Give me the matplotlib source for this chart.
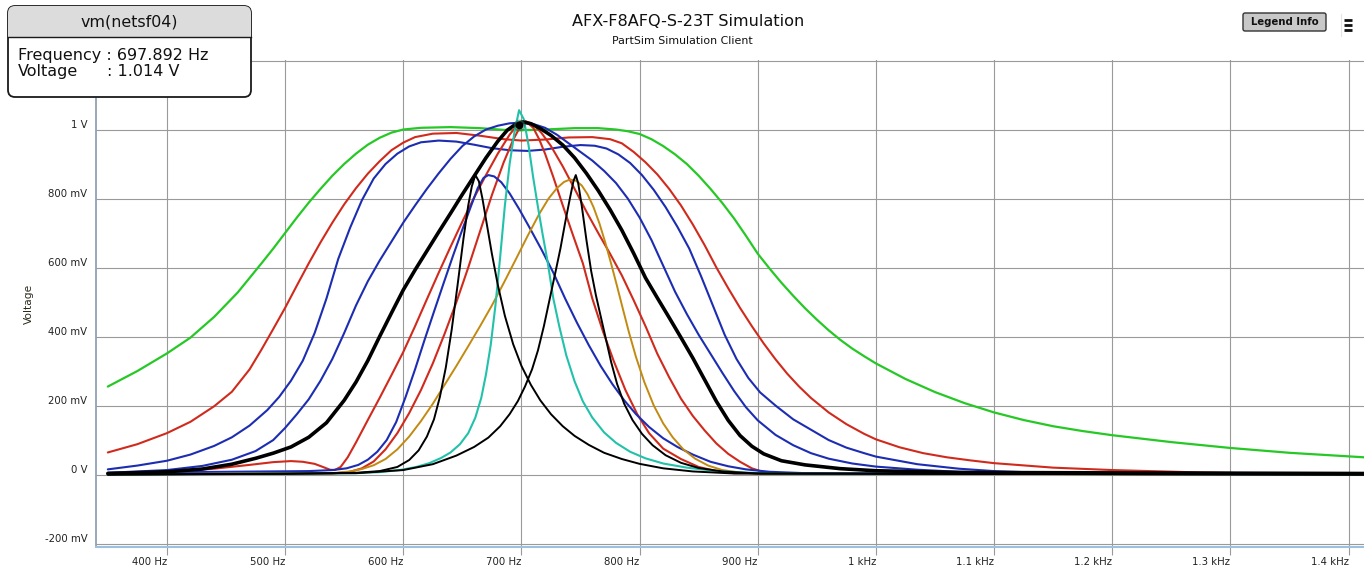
import matplotlib
matplotlib.use("Agg")
import matplotlib.pyplot as plt
from matplotlib.patches import FancyBboxPatch, Rectangle

# ---- data (frequency in Hz, voltage in V) ----
green_f = [350, 375, 400, 420, 440, 460, 480, 490, 500, 510, 520, 530, 540, 550, 560, 570, 580,
           590, 600, 615, 640, 665, 685, 700, 720, 745, 765, 780, 790, 800, 810, 820, 830, 840,
           850, 860, 870, 880, 890, 900, 910, 920, 930, 940, 950, 960, 970, 980, 990, 1000,
           1025, 1050, 1075, 1100, 1125, 1150, 1175, 1200, 1250, 1300, 1350, 1413]
green_v = [0.255, 0.30, 0.351, 0.397, 0.457, 0.528, 0.612, 0.655, 0.70, 0.745, 0.788, 0.828,
           0.866, 0.90, 0.93, 0.956, 0.976, 0.991, 1.0, 1.005, 1.007, 1.004, 0.999, 0.998, 1.0,
           1.004, 1.004, 1.0, 0.995, 0.987, 0.972, 0.952, 0.928, 0.90, 0.866, 0.828, 0.787,
           0.742, 0.692, 0.64, 0.597, 0.556, 0.518, 0.482, 0.449, 0.418, 0.39, 0.365, 0.343,
           0.322, 0.277, 0.239, 0.207, 0.18, 0.158, 0.14, 0.126, 0.114, 0.094, 0.077, 0.063,
           0.05]

red1_f = [350, 375, 400, 420, 440, 455, 470, 480, 490, 500, 510, 520, 530, 540, 550, 560, 570,
          580, 590, 600, 610, 625, 645, 665, 685, 700, 720, 740, 760, 775, 785, 795, 805, 815,
          825, 835, 845, 855, 865, 875, 885, 895, 905, 915, 925, 935, 945, 960, 975, 990, 1000,
          1020, 1040, 1060, 1080, 1100, 1150, 1200, 1275, 1330, 1413]
red1_v = [0.064, 0.088, 0.12, 0.153, 0.198, 0.24, 0.305, 0.362, 0.422, 0.483, 0.548, 0.612,
          0.673, 0.73, 0.783, 0.83, 0.872, 0.908, 0.94, 0.962, 0.978, 0.988, 0.99, 0.982,
          0.972, 0.968, 0.971, 0.977, 0.978, 0.972, 0.96, 0.935, 0.905, 0.87, 0.828, 0.78,
          0.725, 0.665, 0.60, 0.54, 0.483, 0.43, 0.38, 0.334, 0.292, 0.255, 0.222, 0.18, 0.146,
          0.118, 0.102, 0.079, 0.062, 0.05, 0.041, 0.033, 0.02, 0.013, 0.006, 0.003, 0.0]

blue1_f = [350, 375, 400, 420, 440, 455, 470, 485, 495, 505, 515, 525, 535, 545, 555, 565, 575,
           585, 595, 605, 615, 630, 645, 660, 675, 690, 705, 720, 735, 750, 762, 772, 782, 792,
           802, 812, 822, 832, 842, 852, 862, 872, 882, 892, 902, 915, 930, 945, 960, 975, 990,
           1000, 1035, 1070, 1100, 1150, 1413]
blue1_v = [0.015, 0.026, 0.04, 0.058, 0.083, 0.108, 0.142, 0.187, 0.225, 0.272, 0.33, 0.41,
           0.51, 0.625, 0.715, 0.795, 0.858, 0.90, 0.93, 0.951, 0.963, 0.968, 0.965, 0.956,
           0.946, 0.94, 0.938, 0.942, 0.95, 0.955, 0.953, 0.945, 0.928, 0.903, 0.868, 0.825,
           0.775, 0.718, 0.655, 0.575, 0.49, 0.405, 0.335, 0.28, 0.238, 0.20, 0.16, 0.13, 0.10,
           0.078, 0.062, 0.052, 0.03, 0.017, 0.01, 0.004, 0.0]

blue2_f = [350, 400, 430, 455, 475, 490, 500, 510, 520, 530, 540, 550, 560, 570, 580, 590, 600,
           610, 620, 630, 640, 650, 660, 670, 680, 690, 700, 710, 720, 730, 740, 750, 760, 770,
           780, 790, 800, 810, 820, 830, 840, 850, 860, 870, 880, 890, 900, 915, 930, 945, 960,
           980, 1000, 1035, 1070, 1150, 1413]
blue2_v = [0.005, 0.013, 0.025, 0.043, 0.068, 0.10, 0.135, 0.175, 0.218, 0.272, 0.335, 0.41,
           0.49, 0.56, 0.62, 0.675, 0.73, 0.78, 0.828, 0.873, 0.915, 0.952, 0.98, 1.0, 1.011,
           1.018, 1.02, 1.016, 1.005, 0.985, 0.96, 0.935, 0.91, 0.88, 0.845, 0.80, 0.745, 0.68,
           0.605, 0.53, 0.465, 0.405, 0.35, 0.295, 0.242, 0.195, 0.157, 0.115, 0.085, 0.062,
           0.046, 0.032, 0.023, 0.014, 0.008, 0.003, 0.0]

black1_f = [350, 400, 430, 455, 475, 490, 505, 520, 535, 550, 560, 570, 580, 590, 600, 610, 620,
            630, 640, 650, 660, 670, 680, 688, 695, 701, 708, 716, 725, 735, 745, 755, 765, 775,
            785, 795, 805, 815, 825, 835, 845, 855, 865, 875, 885, 895, 905, 920, 940, 970, 1000,
            1070, 1413]
black1_v = [0.003, 0.008, 0.016, 0.03, 0.047, 0.062, 0.08, 0.108, 0.15, 0.215, 0.268, 0.33,
            0.40, 0.468, 0.535, 0.593, 0.648, 0.703, 0.757, 0.812, 0.865, 0.918, 0.966, 0.998,
            1.015, 1.022, 1.017, 1.003, 0.983, 0.955, 0.918, 0.873, 0.823, 0.768, 0.708, 0.641,
            0.57, 0.512, 0.455, 0.397, 0.338, 0.275, 0.212, 0.157, 0.113, 0.082, 0.06, 0.04,
            0.028, 0.017, 0.011, 0.006, 0.003]

red2_f = [350, 400, 440, 470, 490, 505, 515, 525, 532, 538, 542, 547, 553, 560, 570, 580, 590,
          600, 610, 620, 630, 640, 650, 660, 670, 680, 690, 697, 703, 710, 717, 725, 735, 745,
          755, 765, 775, 785, 795, 805, 815, 825, 835, 845, 855, 865, 875, 885, 895, 905, 920,
          1413]
red2_v = [0.002, 0.008, 0.017, 0.028, 0.036, 0.039, 0.037, 0.031, 0.022, 0.014, 0.013, 0.022,
          0.05, 0.093, 0.158, 0.222, 0.288, 0.355, 0.43, 0.508, 0.585, 0.66, 0.733, 0.803,
          0.868, 0.93, 0.985, 1.015, 1.025, 1.015, 0.99, 0.952, 0.893, 0.828, 0.762, 0.70,
          0.64, 0.577, 0.505, 0.43, 0.35, 0.282, 0.22, 0.17, 0.128, 0.09, 0.06, 0.037, 0.018,
          0.007, 0.003, 0.0]

red3_f = [350, 540, 555, 565, 575, 585, 595, 605, 615, 625, 635, 645, 655, 665, 675, 685, 693,
          700, 705, 710, 715, 720, 727, 735, 743, 752, 760, 769, 778, 788, 798, 808, 820, 835,
          850, 865, 880, 1413]
red3_v = [0.001, 0.003, 0.008, 0.018, 0.038, 0.073, 0.12, 0.178, 0.245, 0.322, 0.408, 0.50,
          0.60, 0.705, 0.81, 0.905, 0.97, 1.015, 1.02, 1.005, 0.972, 0.93, 0.862, 0.78, 0.70,
          0.612, 0.51, 0.415, 0.33, 0.245, 0.175, 0.12, 0.075, 0.045, 0.022, 0.01, 0.004, 0.0]

blue3_f = [350, 450, 520, 540, 552, 562, 570, 578, 586, 594, 602, 610, 618, 626, 634, 642, 650,
           657, 663, 668, 672, 677, 683, 690, 698, 707, 717, 727, 737, 747, 757, 767, 777, 787,
           797, 808, 820, 832, 845, 860, 875, 890, 910, 940, 1413]
blue3_v = [0.005, 0.008, 0.01, 0.013, 0.018, 0.028, 0.043, 0.066, 0.10, 0.152, 0.225, 0.305,
           0.39, 0.472, 0.553, 0.633, 0.71, 0.775, 0.83, 0.86, 0.868, 0.864, 0.847, 0.815, 0.77,
           0.715, 0.652, 0.585, 0.51, 0.44, 0.375, 0.315, 0.262, 0.215, 0.175, 0.138, 0.105,
           0.08, 0.058, 0.037, 0.024, 0.015, 0.008, 0.004, 0.0]

orange_f = [350, 540, 555, 565, 575, 585, 595, 605, 615, 625, 635, 645, 655, 665, 675, 685, 695,
            705, 715, 723, 730, 736, 741, 746, 751, 756, 761, 766, 771, 776, 781, 786, 791, 797,
            804, 812, 820, 828, 837, 847, 858, 870, 885, 900, 1413]
orange_v = [0.001, 0.004, 0.009, 0.016, 0.027, 0.045, 0.073, 0.11, 0.155, 0.205, 0.26, 0.315,
            0.372, 0.43, 0.49, 0.555, 0.622, 0.69, 0.755, 0.80, 0.83, 0.848, 0.855, 0.852,
            0.838, 0.812, 0.775, 0.728, 0.672, 0.61, 0.545, 0.478, 0.412, 0.34, 0.268, 0.20,
            0.148, 0.108, 0.073, 0.046, 0.026, 0.013, 0.006, 0.002, 0.0]

cyan_f = [350, 560, 580, 597, 611, 622, 632, 640, 648, 655, 661, 666, 670, 674, 678, 682, 686,
          690, 694, 698, 702, 706, 710, 714, 718, 722, 727, 732, 738, 745, 752, 760, 770, 780,
          792, 805, 820, 840, 860, 885, 920, 1413]
cyan_v = [0.0, 0.004, 0.007, 0.013, 0.022, 0.033, 0.048, 0.064, 0.088, 0.12, 0.165, 0.222,
          0.29, 0.375, 0.49, 0.63, 0.78, 0.90, 0.99, 1.056, 1.03, 0.955, 0.86, 0.775, 0.695,
          0.62, 0.51, 0.43, 0.345, 0.27, 0.212, 0.165, 0.122, 0.092, 0.066, 0.047, 0.032, 0.02,
          0.012, 0.006, 0.003, 0.0]

black2_f = [350, 500, 560, 580, 595, 605, 613, 620, 626, 631, 636, 641, 646, 651, 655, 658, 661,
            664, 667, 671, 675, 680, 686, 693, 700, 708, 716, 725, 735, 745, 757, 770, 785, 800,
            820, 845, 880, 1413]
black2_v = [0.0, 0.002, 0.005, 0.01, 0.022, 0.042, 0.07, 0.11, 0.16, 0.225, 0.31, 0.42, 0.55,
            0.685, 0.78, 0.835, 0.868, 0.85, 0.80, 0.72, 0.64, 0.55, 0.46, 0.378, 0.315, 0.26,
            0.215, 0.175, 0.14, 0.112, 0.086, 0.063, 0.045, 0.031, 0.018, 0.009, 0.003, 0.0]

black3_f = [350, 560, 600, 625, 645, 660, 672, 682, 690, 697, 703, 709, 714, 719, 724, 729, 733,
            737, 741, 744, 746, 748, 751, 755, 759, 763, 767, 771, 776, 781, 787, 794, 802, 811,
            822, 835, 850, 870, 900, 1413]
black3_v = [0.0, 0.004, 0.013, 0.03, 0.055, 0.08, 0.107, 0.14, 0.175, 0.213, 0.255, 0.305, 0.36,
            0.43, 0.51, 0.59, 0.655, 0.73, 0.80, 0.85, 0.868, 0.845, 0.78, 0.68, 0.59, 0.52,
            0.46, 0.40, 0.325, 0.262, 0.205, 0.158, 0.118, 0.085, 0.056, 0.034, 0.019, 0.009,
            0.003, 0.0]

cursor_f, cursor_v = 697.892, 1.014

x_ticks = [400, 500, 600, 700, 800, 900, 1000, 1100, 1200, 1300, 1400]
x_labels = ["400 Hz", "500 Hz", "600 Hz", "700 Hz", "800 Hz", "900 Hz", "1 kHz",
            "1.1 kHz", "1.2 kHz", "1.3 kHz", "1.4 kHz"]
y_ticks = [-0.2, 0.0, 0.2, 0.4, 0.6, 0.8, 1.0, 1.2]
y_labels = ["-200 mV", "0 V", "200 mV", "400 mV", "600 mV", "800 mV", "1 V", ""]

GREEN, RED, BLUE = "#26c826", "#d02a1c", "#1c2db2"
TEAL, GOLD = "#22c2aa", "#c28a10"

W, H = 1364, 569
fig = plt.figure(figsize=(W / 100, H / 100), dpi=100)
ax = fig.add_axes([96 / W, 1 - 547 / H, 1 - 96 / W, (547 - 60) / H])

curves = [
    (green_f, green_v, GREEN, 1.6),
    (red1_f, red1_v, RED, 1.5),
    (blue1_f, blue1_v, BLUE, 1.5),
    (blue2_f, blue2_v, BLUE, 1.5),
    (red2_f, red2_v, RED, 1.5),
    (red3_f, red3_v, RED, 1.5),
    (blue3_f, blue3_v, BLUE, 1.5),
    (orange_f, orange_v, GOLD, 1.4),
    (cyan_f, cyan_v, TEAL, 1.5),
    (black2_f, black2_v, "black", 1.4),
    (black3_f, black3_v, "black", 1.4),
    (black1_f, black1_v, "black", 2.6),
]
for fx, vy, col, lw in curves:
    ax.plot(fx, vy, color=col, lw=lw, solid_capstyle="round", solid_joinstyle="round",
            zorder=3)

ax.scatter([cursor_f], [cursor_v], s=70, color="#2f6f55", alpha=0.55, zorder=5, lw=0)
ax.scatter([cursor_f], [cursor_v], s=30, color="black", zorder=6, lw=0)

ax.set_xlim(340, 1413)
ax.set_ylim(-0.21, 1.2015)
ax.set_xticks(x_ticks)
ax.set_xticklabels(x_labels)
ax.set_yticks(y_ticks)
ax.set_yticklabels(y_labels)
ax.grid(True, color="#9a9a9a", lw=0.8, zorder=1)
ax.set_axisbelow(True)

for side in ("top", "right"):
    ax.spines[side].set_visible(False)
ax.spines["left"].set_color("#8fa2b4")
ax.spines["left"].set_linewidth(1.3)
ax.spines["bottom"].set_color("#9dc0e0")
ax.spines["bottom"].set_linewidth(1.5)

ax.tick_params(axis="x", length=5.8, width=0.8, color="#9a9a9a", pad=1.2,
               labelsize=7.3, labelcolor="#222222")
ax.tick_params(axis="y", length=0, pad=6.3, labelsize=7.3, labelcolor="#222222")
for lab in ax.get_xticklabels():
    lab.set_ha("right")
for lab in ax.get_yticklabels():
    lab.set_va("bottom")

ax.set_ylabel("Voltage", fontsize=7.7, color="#2a2a1a", va="center")
ax.yaxis.set_label_coords(-0.0526, 0.5)

fig.text(688 / W, 1 - 21.5 / H, "AFX-F8AFQ-S-23T Simulation", ha="center", va="center",
         fontsize=11.6, color="#111111")
fig.text(682 / W, 1 - 41 / H, "PartSim Simulation Client", ha="center", va="center",
         fontsize=7.9, color="#111111")

# overlay in pixel coordinates for the cursor box and buttons
ov = fig.add_axes([0, 0, 1, 1], zorder=10)
ov.set_xlim(0, W)
ov.set_ylim(H, 0)
ov.axis("off")

box = FancyBboxPatch((8, 6), 243, 91, boxstyle="round,pad=0,rounding_size=7",
                     facecolor="white", edgecolor="#1a1a1a", lw=1.3)
ov.add_patch(box)
head = Rectangle((8, 6), 243, 30.5, facecolor="#dcdcdc", edgecolor="none")
ov.add_patch(head)
head.set_clip_path(box)
ov.plot([8, 251], [36.5, 36.5], color="#1a1a1a", lw=1.0)
ov.text(129.5, 22, "vm(netsf04)", ha="center", va="center", fontsize=11.4, color="#111111")
ov.text(18, 55, "Frequency : 697.892 Hz", ha="left", va="center", fontsize=11.5,
        color="#111111")
ov.text(18, 71, "Voltage", ha="left", va="center", fontsize=11.5, color="#111111")
ov.text(107, 71, ": 1.014 V", ha="left", va="center", fontsize=11.5, color="#111111")

btn = FancyBboxPatch((1243, 13), 83, 18, boxstyle="round,pad=0,rounding_size=2",
                     facecolor="#c8c8c8", edgecolor="#333333", lw=1.0)
ov.add_patch(btn)
ov.text(1284.5, 22, "Legend Info", ha="center", va="center", fontsize=7.3,
        fontweight="bold", color="#111111")
ov.plot([1340.5, 1340.5], [14, 36], color="#e4e4e4", lw=0.8)
for yb in (20, 24.5, 29.5):
    ov.plot([1344, 1352], [yb, yb], color="#111111", lw=2.0, solid_capstyle="butt")

fig.savefig("out.png", dpi=100)
